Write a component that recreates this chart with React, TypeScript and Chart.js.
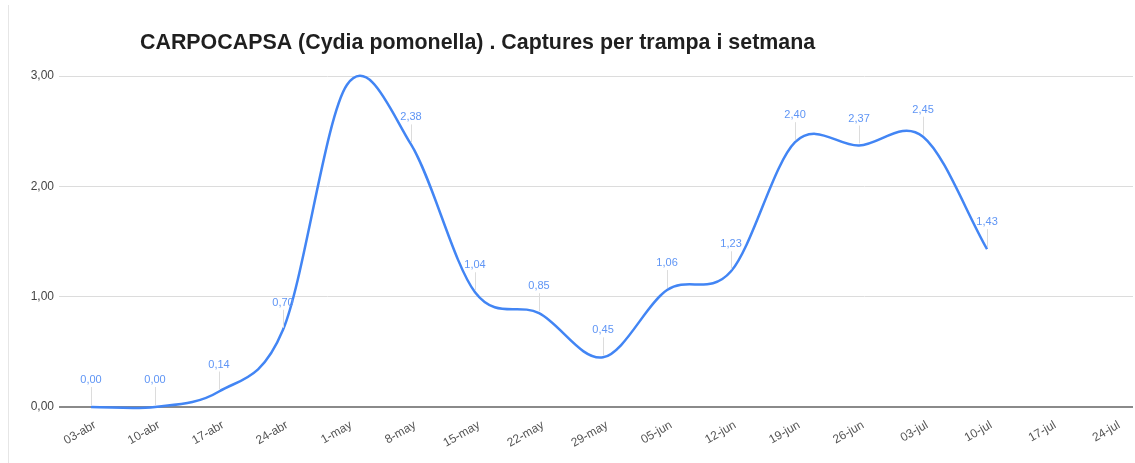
import React, { useEffect, useRef } from "react";
import { Chart, registerables } from "chart.js";

Chart.register(...registerables);

const categories = [
  "03-abr", "10-abr", "17-abr", "24-abr", "1-may", "8-may", "15-may", "22-may",
  "29-may", "05-jun", "12-jun", "19-jun", "26-jun", "03-jul", "10-jul", "17-jul", "24-jul",
];
const captures: (number | null)[] = [
  0.0, 0.0, 0.14, 0.7, 2.92, 2.38, 1.04, 0.85, 0.45, 1.06, 1.23, 2.4, 2.37, 2.45, 1.43, null, null,
];
const yTicks = [0, 1, 2, 3];
const titleText = "CARPOCAPSA (Cydia pomonella) . Captures per trampa i setmana";

const FONT = "'Liberation Sans', Arial, sans-serif";

const fmt = (v: number) => v.toFixed(2).replace(".", ",");

export default function App() {
  const ref = useRef<HTMLCanvasElement | null>(null);

  useEffect(() => {
    document.body.style.margin = "0";
    const canvas = ref.current;
    if (!canvas) return;

    const decor = {
      id: "decor",
      beforeDraw(chart: any) {
        const ctx = chart.ctx;
        ctx.save();
        ctx.strokeStyle = "#e6e6e6";
        ctx.lineWidth = 1;
        ctx.beginPath();
        ctx.moveTo(8.5, 5);
        ctx.lineTo(8.5, chart.height);
        ctx.stroke();
        ctx.fillStyle = "#1f1f1f";
        ctx.font = `bold 21.4px ${FONT}`;
        ctx.textAlign = "left";
        ctx.textBaseline = "alphabetic";
        ctx.fillText(titleText, 140, 49);
        ctx.restore();
      },
      beforeDatasetsDraw(chart: any) {
        // x-uniform Catmull-Rom style spline, like the original chart's smoothing
        const meta = chart.getDatasetMeta(0);
        const pts = meta.data.filter((p: any) => !p.skip);
        const n = pts.length;
        for (let i = 0; i < n; i++) {
          const p = pts[i];
          const prev = pts[Math.max(0, i - 1)];
          const next = pts[Math.min(n - 1, i + 1)];
          const dxPrev = i > 0 ? p.x - pts[i - 1].x : 0;
          const dxNext = i < n - 1 ? pts[i + 1].x - p.x : 0;
          const slope = (next.y - prev.y) / ((next.x - prev.x) || 1);
          p.cp1x = p.x - dxPrev / 3;
          p.cp1y = p.y - (slope * dxPrev) / 3;
          p.cp2x = p.x + dxNext / 3;
          p.cp2y = p.y + (slope * dxNext) / 3;
        }
        meta.dataset._pointsUpdated = true;
      },
      afterDatasetsDraw(chart: any) {
        const ctx = chart.ctx;
        const meta = chart.getDatasetMeta(0);
        const top = chart.chartArea.top;
        ctx.save();
        meta.data.forEach((pt: any, i: number) => {
          const v = captures[i];
          if (v === null || v === undefined) return;
          const x = pt.x;
          const y = pt.y;
          if (y - 27 < top) return;
          ctx.strokeStyle = "#dcdcdc";
          ctx.lineWidth = 1;
          ctx.beginPath();
          ctx.moveTo(Math.round(x) + 0.5, y - 20);
          ctx.lineTo(Math.round(x) + 0.5, y - 2);
          ctx.stroke();
          ctx.fillStyle = "#5f95f5";
          ctx.font = `11px ${FONT}`;
          ctx.textAlign = "center";
          ctx.textBaseline = "middle";
          ctx.fillText(fmt(v), x, y - 27);
        });
        ctx.restore();
      },
    };

    const chart = new Chart(canvas, {
      type: "line",
      data: {
        datasets: [
          {
            data: captures.map((v, i) => ({ x: i, y: v })) as any,
            borderColor: "#4285F4",
            borderWidth: 2.5,
            pointRadius: 0,
            tension: 0.4,
            capBezierPoints: false,
            fill: false,
            clip: false as any,
            spanGaps: false,
          } as any,
        ],
      },
      options: {
        responsive: false,
        animation: false,
        layout: { padding: { left: 0, right: 2, top: 76, bottom: 0 } },
        plugins: {
          legend: { display: false },
          title: { display: false },
          tooltip: { enabled: false },
        },
        scales: {
          x: {
            type: "linear",
            min: -0.5,
            max: 16.28,
            afterBuildTicks(scale: any) {
              scale.ticks = categories.map((_, i) => ({ value: i }));
            },
            afterFit(scale: any) {
              scale.height = 56;
            },
            grid: { display: false, drawTicks: false },
            border: { display: false },
            ticks: {
              autoSkip: false,
              minRotation: 30,
              maxRotation: 30,
              padding: 11,
              labelOffset: 4,
              color: "#555555",
              font: { family: FONT, size: 12 },
              callback: (v: any) => categories[Math.round(Number(v))] ?? "",
            },
          },
          y: {
            min: 0,
            max: 3,
            afterBuildTicks(scale: any) {
              scale.ticks = yTicks.map((v) => ({ value: v }));
            },
            afterFit(scale: any) {
              scale.width = 59;
            },
            grid: {
              drawTicks: false,
              color: (c: any) => (c.tick && c.tick.value === 0 ? "#8a8a8a" : "#dcdcdc"),
              lineWidth: (c: any) => (c.tick && c.tick.value === 0 ? 2 : 1),
            },
            border: { display: false },
            ticks: {
              padding: 5,
              color: "#444444",
              font: { family: FONT, size: 12 },
              callback: (v: any) => fmt(Number(v)),
            },
          },
        },
      },
      plugins: [decor],
    });

    return () => chart.destroy();
  }, []);

  return <canvas ref={ref} width={1135} height={463} style={{ display: "block" }} />;
}
